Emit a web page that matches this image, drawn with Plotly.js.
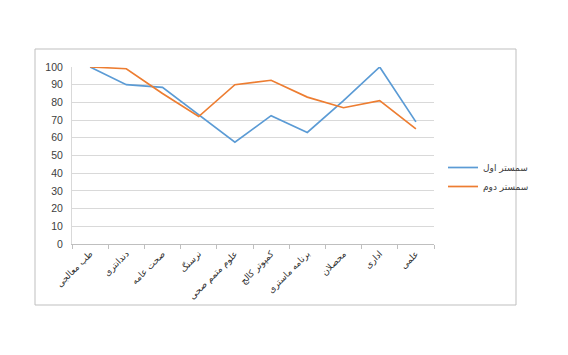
<!DOCTYPE html>
<html>
<head>
<meta charset="utf-8">
<script src="https://cdn.plot.ly/plotly-3.0.1.min.js"></script>
<style>html,body{margin:0;padding:0;background:#fff;}#chart{width:568px;height:355px;}</style>
</head>
<body>
<div id="chart"></div>
<script>
var categories = ["طب معالجی", "دندانتری", "صحت عامه", "نرسنگ", "علوم متمم صحی", "کمپوتر کالج", "برنامه ماستری", "محصلان", "اداری", "علمی"];
var semester1 = [100, 90, 88.5, 73, 57.5, 72.5, 63, 81, 100, 69];
var semester2 = [100, 99, 85, 72, 90, 92.5, 83, 77, 81, 65];
var seriesNames = ["سمستر اول", "سمستر دوم"];
var yTicks = [0, 10, 20, 30, 40, 50, 60, 70, 80, 90, 100];

var L = 72, R = 434, T = 67, B = 244;
function px(x){ return (x - L) / (R - L); }
function py(y){ return (B - y) / (B - T); }

var traces = [
  {x: categories, y: semester1, name: seriesNames[0], type: 'scatter', mode: 'lines',
   line: {color: '#5B9BD5', width: 1.7}},
  {x: categories, y: semester2, name: seriesNames[1], type: 'scatter', mode: 'lines',
   line: {color: '#ED7D31', width: 1.7}}
];

var layout = {
  width: 568, height: 355,
  margin: {l: L, r: 568 - R, t: T, b: 355 - B},
  paper_bgcolor: '#fff', plot_bgcolor: '#fff',
  font: {family: 'Liberation Sans, DejaVu Sans, Arial, sans-serif', color: '#404040'},
  showlegend: true,
  legend: {x: px(443), y: py(153), xanchor: 'left', yanchor: 'top',
           font: {size: 9, family: 'DejaVu Sans, sans-serif', color: '#404040'},
           bgcolor: 'rgba(0,0,0,0)', tracegroupgap: 2, itemwidth: 30},
  xaxis: {type: 'category', tickangle: -45, tickfont: {size: 9, family: 'DejaVu Sans, sans-serif', color: '#303030'},
          showgrid: false, showline: true, linecolor: '#BFBFBF', linewidth: 1,
          ticks: 'outside', ticklen: 4, tickcolor: '#BFBFBF', tickson: 'boundaries',
          range: [-0.5, 9.5], zeroline: false, fixedrange: true},
  yaxis: {range: [0, 100], tickvals: yTicks, ticktext: yTicks.map(String),
          tickfont: {size: 10.5, color: '#404040'}, showgrid: true, gridcolor: '#D9D9D9', gridwidth: 1,
          showline: true, linecolor: '#D9D9D9', zeroline: false, ticks: '', ticklabelstandoff: 6, fixedrange: true},
  shapes: [
    {type: 'rect', xref: 'paper', yref: 'paper', x0: px(35), x1: px(516), y0: py(49), y1: py(305),
     line: {color: '#BFBFBF', width: 1}, fillcolor: 'rgba(0,0,0,0)', layer: 'below'}
  ]
};

Plotly.newPlot('chart', traces, layout, {displayModeBar: false, staticPlot: true});
</script>
</body>
</html>
